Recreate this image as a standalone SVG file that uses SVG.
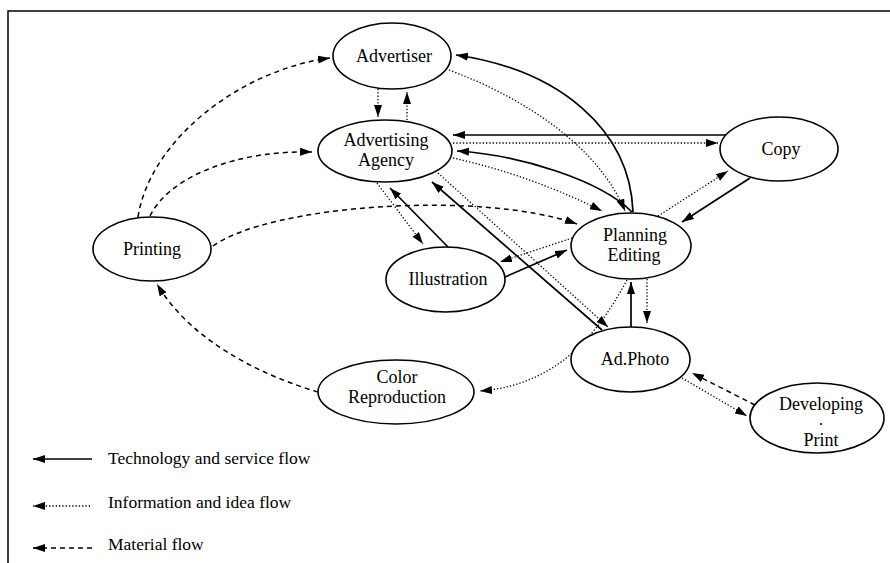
<svg xmlns="http://www.w3.org/2000/svg" width="890" height="563" viewBox="0 0 890 563">
<style>
.n ellipse{fill:#fff;stroke:#000;stroke-width:1.6}
text{font-family:"Liberation Serif","Times New Roman",serif;font-size:18px;fill:#000;text-anchor:middle}
.lg text{font-size:17.5px;text-anchor:start}
.dot{font-size:12px;font-weight:bold}
.t{fill:none;stroke:#000;stroke-width:1.7}
.i{fill:none;stroke:#000;stroke-width:1.3;stroke-dasharray:1.3 2}
.m{fill:none;stroke:#000;stroke-width:1.5;stroke-dasharray:5 4}
</style>
<defs>
<marker id="ah" markerUnits="userSpaceOnUse" markerWidth="13" markerHeight="9" refX="12" refY="4" orient="auto">
<path d="M0,0 L12,4 L0,8 Z" fill="#000" stroke="none"/>
</marker>
</defs>
<rect width="890" height="563" fill="#fff"/>
<g id="frame" fill="none" stroke="#000" stroke-width="1.5">
<path d="M890,11 L8,11 L8,563"/>
</g>
<g id="connectors">
<path class="m" d="M138,217 C150,140 240,70 330,58" marker-end="url(#ah)"/>
<path class="m" d="M150,216 C170,175 240,150 312,152" marker-end="url(#ah)"/>
<path class="m" d="M213,246 C270,205 480,190 577,224" marker-end="url(#ah)"/>
<path class="m" d="M318,392 C260,375 190,340 157,284" marker-end="url(#ah)"/>
<path class="m" d="M755,405 L692,373" marker-end="url(#ah)"/>
<path class="i" d="M378,89 L378,117" marker-end="url(#ah)"/>
<path class="i" d="M407,120 L407,92" marker-end="url(#ah)"/>
<path class="i" d="M449,70 C530,100 600,150 625,211" marker-end="url(#ah)"/>
<path class="i" d="M453,143 L718,143" marker-end="url(#ah)"/>
<path class="i" d="M453,158 Q530,175 602,211" marker-end="url(#ah)"/>
<path class="i" d="M658,216 L728,171" marker-end="url(#ah)"/>
<path class="i" d="M377,183 L423,244" marker-end="url(#ah)"/>
<path class="i" d="M438,173 L608,327" marker-end="url(#ah)"/>
<path class="i" d="M572,238 L500,262" marker-end="url(#ah)"/>
<path class="i" d="M647,279 L647,323" marker-end="url(#ah)"/>
<path class="i" d="M627,280 C600,330 560,385 480,391" marker-end="url(#ah)"/>
<path class="i" d="M682,378 L747,416" marker-end="url(#ah)"/>
<path class="t" d="M727,135 L453,135" marker-end="url(#ah)"/>
<path class="t" d="M632,212 C600,180 520,155 457,151" marker-end="url(#ah)"/>
<path class="t" d="M633,212 C630,130 560,70 456,55" marker-end="url(#ah)"/>
<path class="t" d="M750,178 L682,222" marker-end="url(#ah)"/>
<path class="t" d="M448,247 L390,188" marker-end="url(#ah)"/>
<path class="t" d="M602,330 L432,182" marker-end="url(#ah)"/>
<path class="t" d="M505,277 L567,250" marker-end="url(#ah)"/>
<path class="t" d="M631,327 L631,282" marker-end="url(#ah)"/>
</g>
<g id="advertiser" class="n"><ellipse cx="392" cy="56" rx="59" ry="33"/><text x="394" y="62">Advertiser</text></g>
<g id="agency" class="n"><ellipse cx="385" cy="151" rx="67" ry="31"/><text x="386" y="146">Advertising</text><text x="386" y="166">Agency</text></g>
<g id="copy" class="n"><ellipse cx="779" cy="149" rx="59" ry="32"/><text x="781" y="155">Copy</text></g>
<g id="printing" class="n"><ellipse cx="152" cy="249" rx="59" ry="32"/><text x="152" y="255">Printing</text></g>
<g id="illustration" class="n"><ellipse cx="445.5" cy="279.5" rx="59.5" ry="32.5"/><text x="448" y="285">Illustration</text></g>
<g id="planning" class="n"><ellipse cx="631" cy="246" rx="60" ry="33"/><text x="635" y="241">Planning</text><text x="634" y="261">Editing</text></g>
<g id="adphoto" class="n"><ellipse cx="630.5" cy="359.5" rx="59.5" ry="32.5"/><text x="635" y="365">Ad.Photo</text></g>
<g id="color" class="n"><ellipse cx="396" cy="392" rx="78" ry="32"/><text x="397" y="383">Color</text><text x="397" y="403">Reproduction</text></g>
<g id="developing" class="n"><ellipse cx="817" cy="418" rx="67" ry="35"/><text x="821" y="410">Developing</text><text class="dot" x="821" y="425">.</text><text x="821" y="446">Print</text></g>
<g id="legend" class="lg">
<path class="t" d="M92,459 L33,459" marker-end="url(#ah)"/>
<path class="i" d="M90,506 L33,506" marker-end="url(#ah)"/>
<path class="m" d="M92,548 L33,548" marker-end="url(#ah)"/>
<text x="108" y="464">Technology and service flow</text>
<text x="108" y="508">Information and idea flow</text>
<text x="108" y="550">Material flow</text>
</g>
</svg>
